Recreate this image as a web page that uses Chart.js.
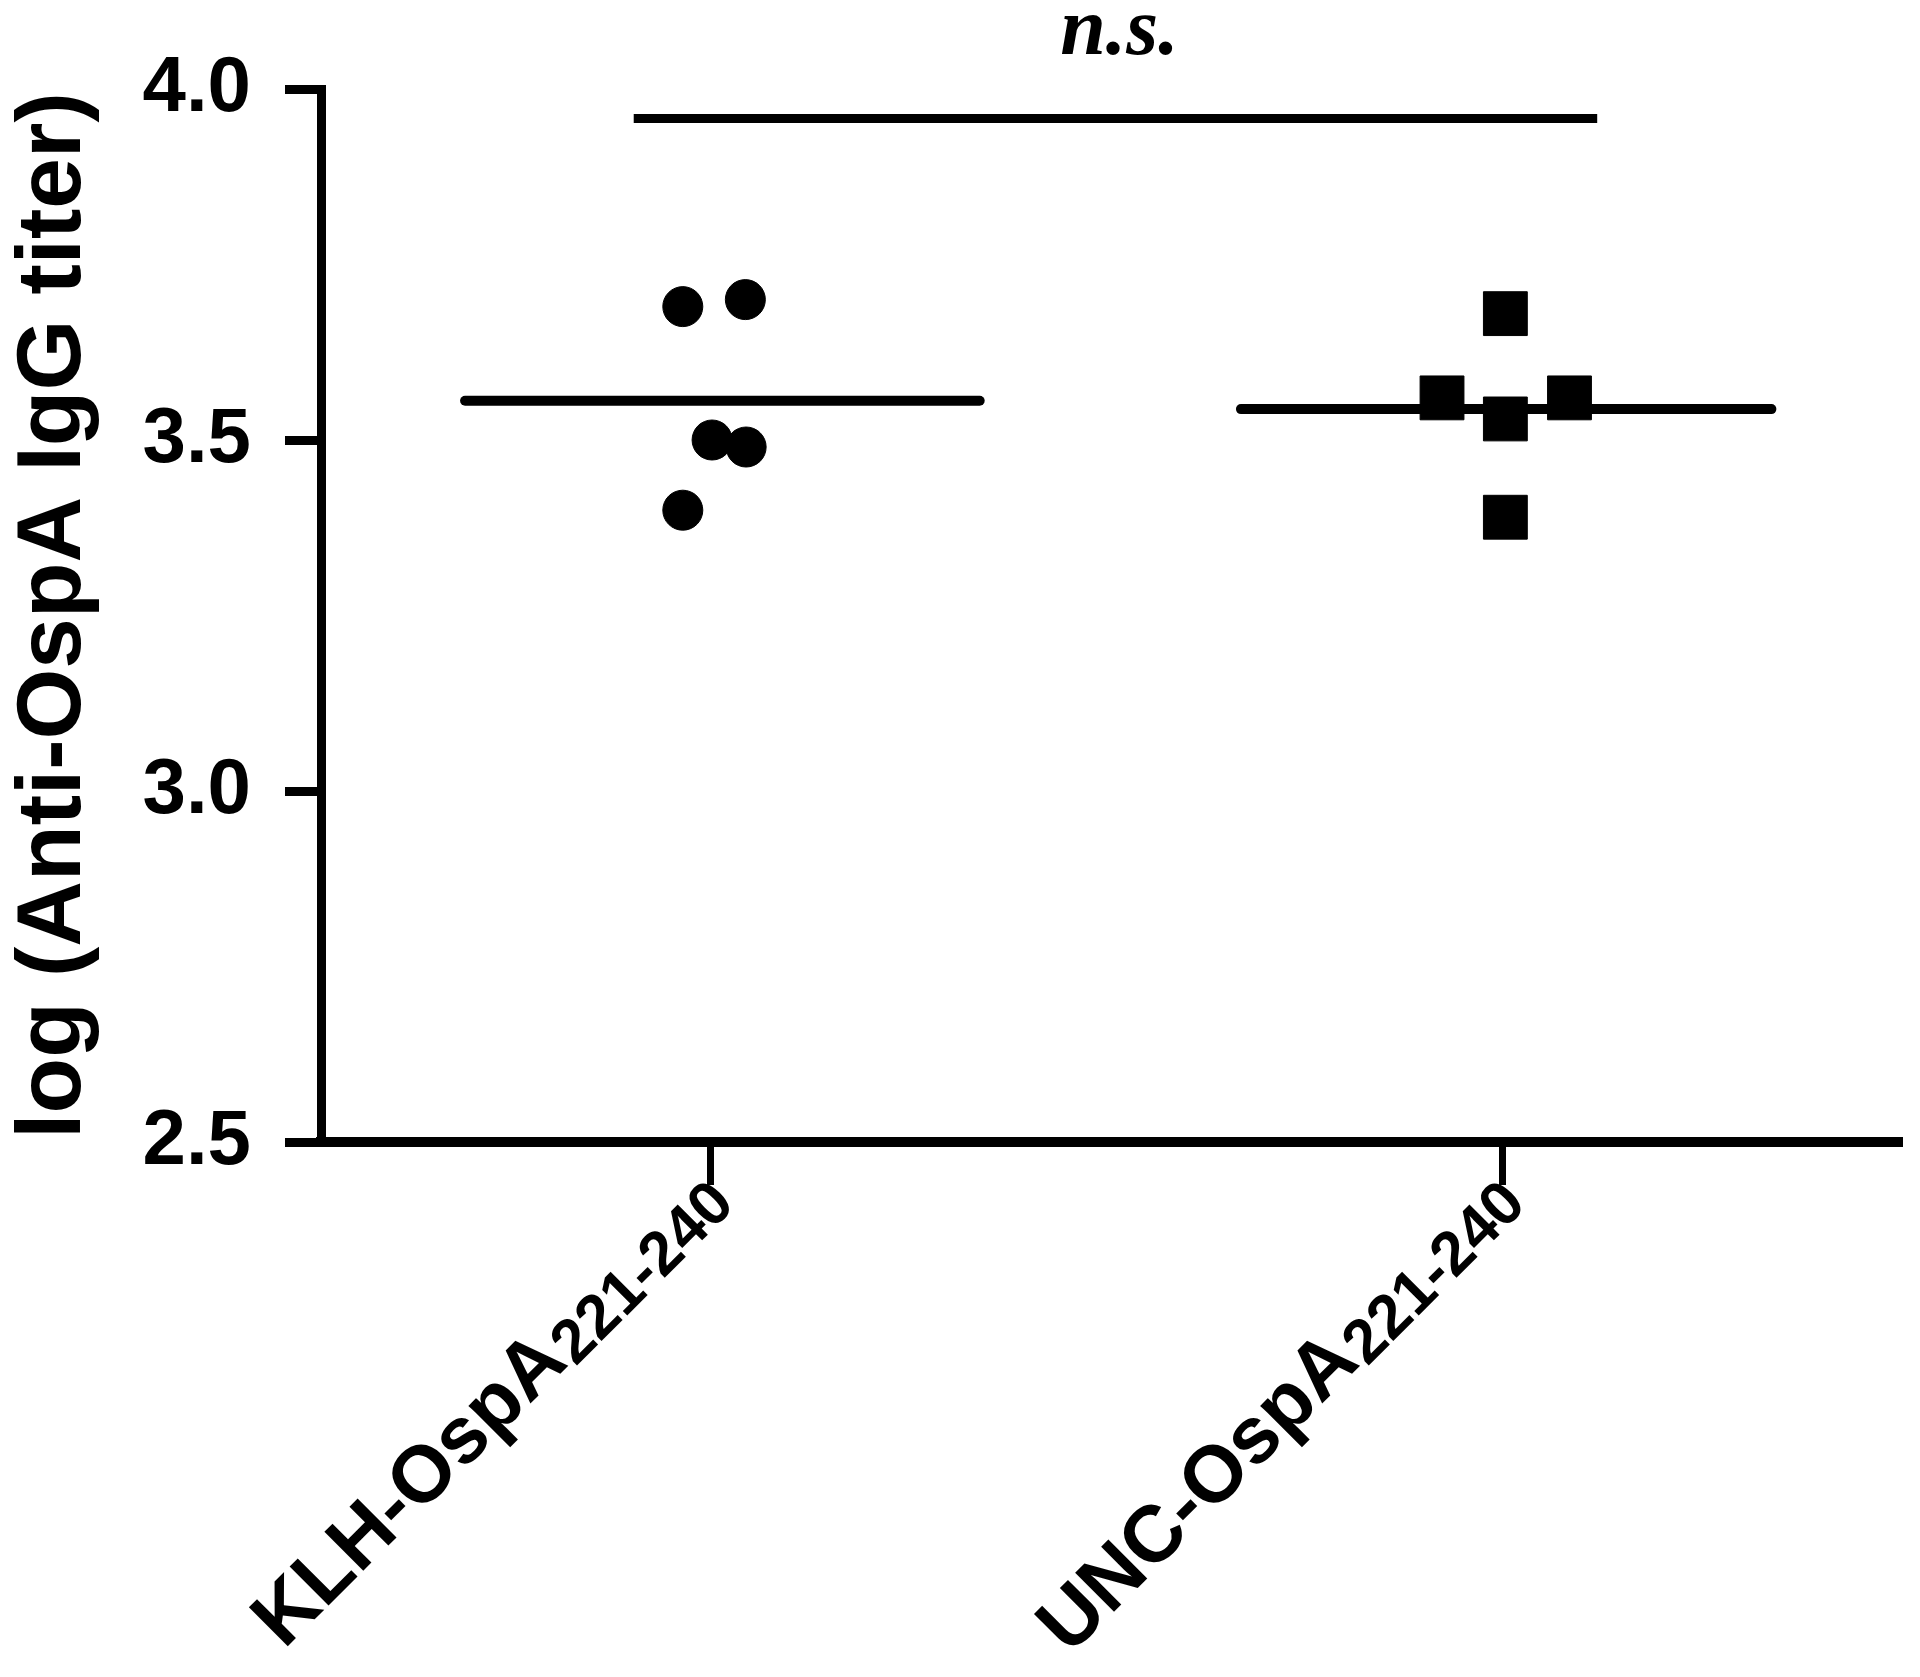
<!DOCTYPE html>
<html>
<head>
<meta charset="utf-8">
<script src="https://cdn.jsdelivr.net/npm/chart.js@4.4.1/dist/chart.umd.min.js"></script>
<style>
  html, body { margin: 0; padding: 0; background: #fff; }
  canvas { display: block; }
</style>
</head>
<body>
<canvas id="plot" width="1920" height="1677"></canvas>
<script>
// groups on the x axis (label + subscript)
const groupNames = ['KLH-OspA', 'UNC-OspA'];
const groupSubs = ['221-240', '221-240'];
const groupPos = [0, 1];

// log titers
const klhValues = [3.69, 3.70, 3.50, 3.49, 3.40];
const klhJitter = [-0.035, 0.044, 0.002, 0.045, -0.035];
const uncValues = [3.68, 3.56, 3.53, 3.56, 3.39];
const uncJitter = [0.004, -0.076, 0.004, 0.085, 0.004];

// horizontal mean bars (left/right extents around the group position)
const meanLeft = [-0.31, -0.33];
const meanRight = [0.34, 0.34];

// significance bracket
const sigFrom = -0.097;
const sigTo = 1.12;
const sigY = 3.958;
const sigLabel = 'n.s.';

const yTicks = [2.5, 3.0, 3.5, 4.0];
const yTitle = 'log (Anti-OspA IgG titer)';

const SANS = 'Arial, "Liberation Sans", Helvetica, sans-serif';
const SERIF = '"Times New Roman", "Liberation Serif", serif';

function mean(arr) {
  return arr.reduce((a, b) => a + b, 0) / arr.length;
}
const means = [mean(klhValues), mean(uncValues)];

function pts(values, jitter, pos) {
  return values.map((v, i) => ({ x: pos + jitter[i], y: v }));
}

function meanLine(i) {
  return {
    data: [{ x: groupPos[i] + meanLeft[i], y: means[i] }, { x: groupPos[i] + meanRight[i], y: means[i] }],
    showLine: true, borderColor: '#000', borderWidth: 10, borderCapStyle: 'round',
    pointRadius: 0, clip: false
  };
}

// draws the rotated group labels with subscripts and the n.s. text
const textPlugin = {
  id: 'textPlugin',
  afterDraw(chart) {
    const ctx = chart.ctx;
    const xs = chart.scales.x;
    const ys = chart.scales.y;
    const mainFont = 'bold 80px ' + SANS;
    const subFont = 'bold 62px ' + SANS;

    groupNames.forEach((name, i) => {
      const px = xs.getPixelForValue(groupPos[i]);
      ctx.save();
      ctx.translate(px + 26, xs.top + 64);
      ctx.rotate(-Math.PI / 4);
      ctx.fillStyle = '#000';
      ctx.textBaseline = 'alphabetic';
      ctx.textAlign = 'right';
      ctx.font = subFont;
      const subW = ctx.measureText(groupSubs[i]).width;
      ctx.fillText(groupSubs[i], 0, 0);
      ctx.font = mainFont;
      ctx.fillText(name, -subW - 2, -6);
      ctx.restore();
    });

    // n.s. above the bracket
    const cx = xs.getPixelForValue((sigFrom + sigTo) / 2);
    const by = ys.getPixelForValue(sigY);
    ctx.save();
    ctx.font = 'bold italic 82px ' + SERIF;
    ctx.fillStyle = '#000';
    ctx.textAlign = 'center';
    ctx.textBaseline = 'alphabetic';
    ctx.fillText(sigLabel, cx + 4, by - 64);
    ctx.restore();
  }
};

const ctx = document.getElementById('plot').getContext('2d');
new Chart(ctx, {
  type: 'scatter',
  data: {
    datasets: [
      {
        data: pts(klhValues, klhJitter, groupPos[0]),
        pointStyle: 'circle', pointRadius: 20, pointBorderWidth: 1,
        backgroundColor: '#000', borderColor: '#000', clip: false
      },
      {
        data: pts(uncValues, uncJitter, groupPos[1]),
        pointStyle: 'rect', pointRadius: 31, pointBorderWidth: 1,
        backgroundColor: '#000', borderColor: '#000', clip: false
      },
      meanLine(0),
      meanLine(1),
      {
        data: [{ x: sigFrom, y: sigY }, { x: sigTo, y: sigY }],
        showLine: true, borderColor: '#000', borderWidth: 9,
        pointRadius: 0, clip: false
      }
    ]
  },
  options: {
    responsive: false,
    animation: false,
    events: [],
    layout: { autoPadding: false, padding: { top: 89, right: 18, left: 0, bottom: 0 } },
    plugins: { legend: { display: false }, tooltip: { enabled: false } },
    scales: {
      x: {
        type: 'linear',
        min: -0.492,
        max: 1.505,
        afterFit: s => { s.height = 535; s.paddingLeft = 0; s.paddingRight = 0; },
        afterBuildTicks: s => { s.ticks = groupPos.map(v => ({ value: v })); },
        ticks: { callback: () => '', padding: 0 },
        grid: { drawOnChartArea: false, drawTicks: true, tickLength: 43, tickWidth: 7, tickColor: '#000' },
        border: { color: '#000', width: 10 }
      },
      y: {
        min: 2.5,
        max: 4.0,
        afterFit: s => { s.width = 321; s.paddingTop = 0; s.paddingBottom = 0; },
        afterBuildTicks: s => { s.ticks = yTicks.map(v => ({ value: v })); },
        ticks: {
          callback: v => Number(v).toFixed(1),
          color: '#000',
          padding: 34,
          font: { family: SANS, size: 78, weight: 'bold' }
        },
        grid: { drawOnChartArea: false, drawTicks: true, tickLength: 36, tickWidth: 9, tickColor: '#000' },
        border: { color: '#000', width: 9 },
        title: {
          display: true,
          text: yTitle,
          color: '#000',
          padding: { top: 0, bottom: 0 },
          font: { family: SANS, size: 91, weight: 'bold' }
        }
      }
    }
  },
  plugins: [textPlugin]
});
</script>
</body>
</html>
